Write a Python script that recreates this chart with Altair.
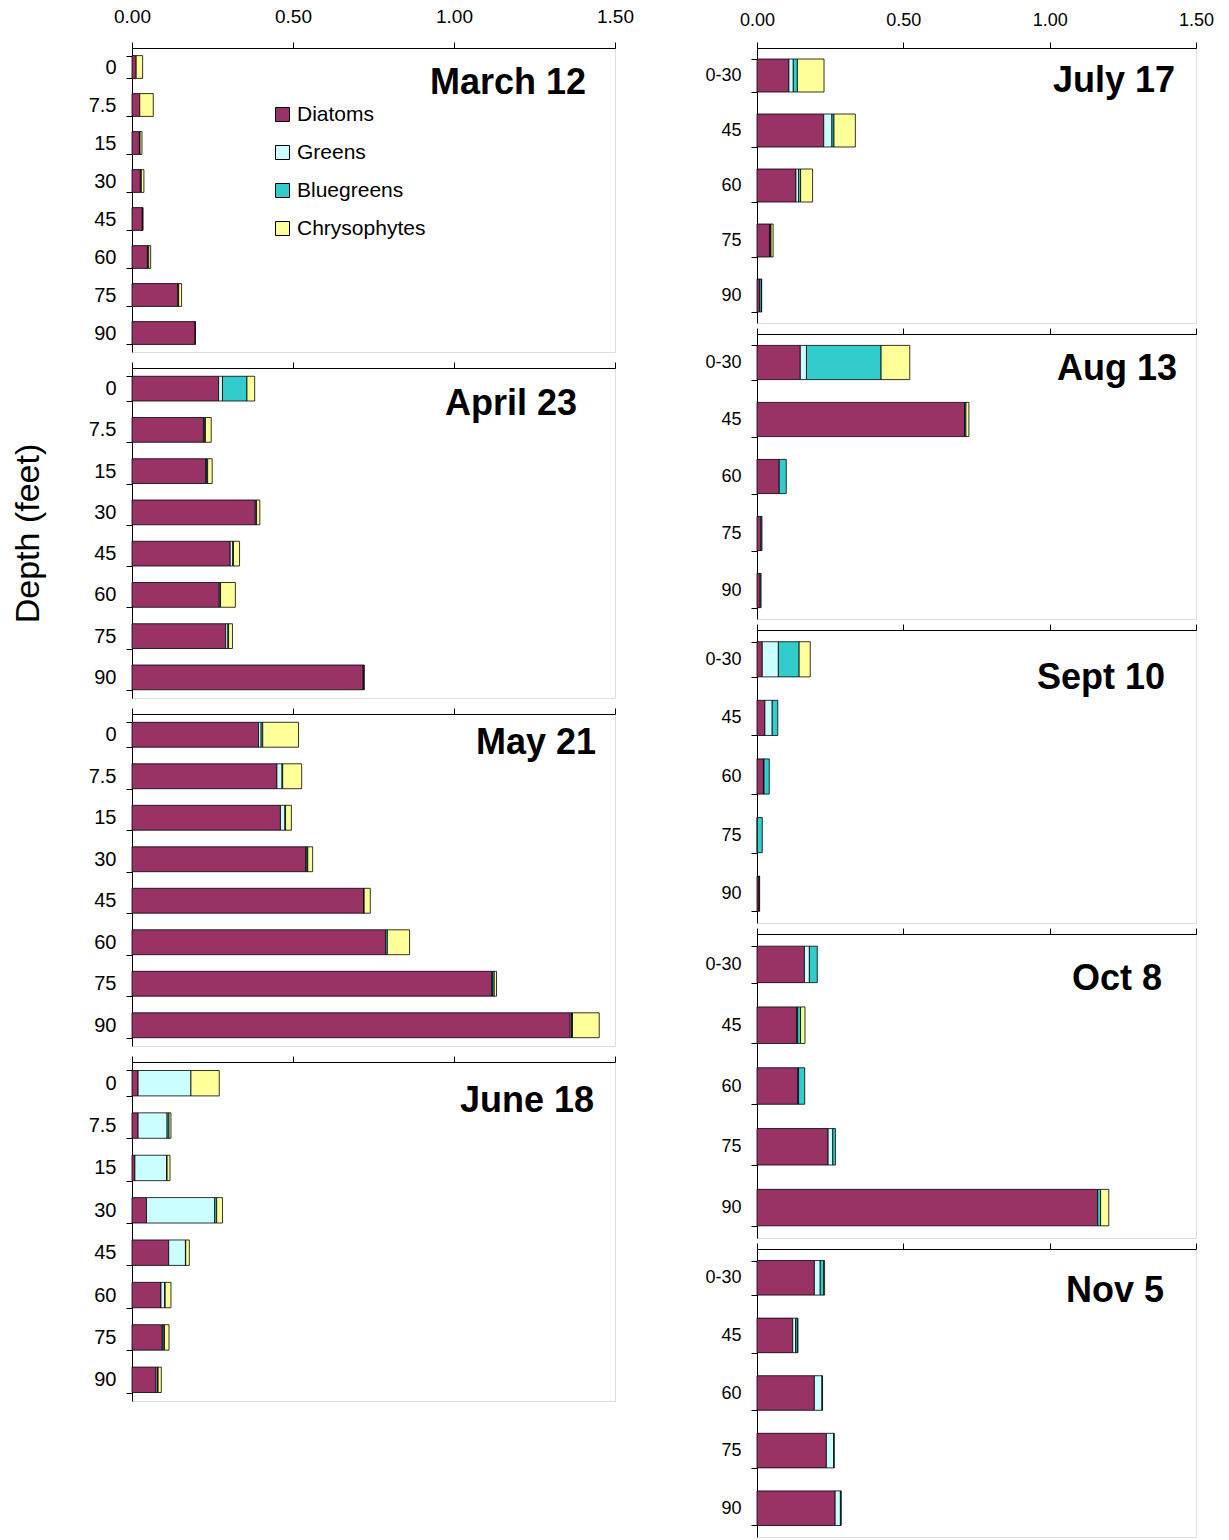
import altair as alt
import pandas as pd

GROUPS = ["Diatoms", "Greens", "Bluegreens", "Chrysophytes"]
COLORS = ["#993366", "#CCFFFF", "#33CCCC", "#FFFF99"]

DEPTHS_LEFT = ["0", "7.5", "15", "30", "45", "60", "75", "90"]
DEPTHS_RIGHT = ["0-30", "45", "60", "75", "90"]
X_TICKS = [0.0, 0.5, 1.0, 1.5]

# March 12
mar_diatoms = [0.013, 0.024, 0.023, 0.026, 0.032, 0.048, 0.143, 0.196]
mar_greens = [0, 0, 0, 0, 0, 0, 0, 0]
mar_bluegreens = [0, 0, 0.002, 0.003, 0.001, 0.004, 0.002, 0]
mar_chryso = [0.020, 0.042, 0.006, 0.008, 0.001, 0.006, 0.009, 0.001]
# April 23
apr_diatoms = [0.269, 0.222, 0.229, 0.383, 0.305, 0.271, 0.291, 0.718]
apr_greens = [0.012, 0.004, 0.002, 0, 0.008, 0, 0.007, 0]
apr_bluegreens = [0.076, 0.002, 0.004, 0.004, 0.002, 0.004, 0.002, 0.002]
apr_chryso = [0.024, 0.018, 0.014, 0.010, 0.019, 0.046, 0.012, 0.001]
# May 21
may_diatoms = [0.393, 0.450, 0.461, 0.539, 0.719, 0.788, 1.117, 1.361]
may_greens = [0.008, 0.016, 0.014, 0.004, 0.001, 0, 0.003, 0.004]
may_bluegreens = [0.005, 0.002, 0.002, 0.003, 0.001, 0.005, 0.005, 0.003]
may_chryso = [0.111, 0.059, 0.018, 0.015, 0.019, 0.069, 0.007, 0.083]
# June 18
jun_diatoms = [0.019, 0.019, 0.009, 0.045, 0.114, 0.090, 0.094, 0.075]
jun_greens = [0.164, 0.090, 0.099, 0.212, 0.052, 0.012, 0.003, 0.005]
jun_bluegreens = [0, 0.006, 0.001, 0.006, 0.001, 0.001, 0.004, 0.001]
jun_chryso = [0.088, 0.006, 0.009, 0.018, 0.011, 0.018, 0.014, 0.010]
# July 17
jul_diatoms = [0.109, 0.228, 0.133, 0.043, 0.009]
jul_greens = [0.015, 0.028, 0.009, 0.002, 0]
jul_bluegreens = [0.014, 0.007, 0.007, 0.003, 0.006]
jul_chryso = [0.091, 0.073, 0.041, 0.007, 0.001]
# Aug 13
aug_diatoms = [0.148, 0.709, 0.076, 0.014, 0.011]
aug_greens = [0.021, 0, 0, 0, 0]
aug_bluegreens = [0.255, 0.005, 0.024, 0.003, 0.003]
aug_chryso = [0.098, 0.010, 0, 0, 0]
# Sept 10
sep_diatoms = [0.018, 0.027, 0.022, 0.001, 0.007]
sep_greens = [0.055, 0.025, 0.002, 0, 0]
sep_bluegreens = [0.071, 0.019, 0.018, 0.017, 0.002]
sep_chryso = [0.038, 0, 0, 0, 0]
# Oct 8
oct_diatoms = [0.162, 0.135, 0.139, 0.243, 1.164]
oct_greens = [0.017, 0.004, 0.003, 0.016, 0]
oct_bluegreens = [0.027, 0.010, 0.021, 0.009, 0.010]
oct_chryso = [0, 0.015, 0, 0, 0.028]
# Nov 5
nov_diatoms = [0.196, 0.122, 0.196, 0.237, 0.267]
nov_greens = [0.020, 0.010, 0.026, 0.025, 0.018]
nov_bluegreens = [0.012, 0.006, 0.002, 0.002, 0.003]
nov_chryso = [0.003, 0.002, 0, 0, 0]

FONT = "Liberation Sans"


def panel(title, depths, series, width, height, first, legend, ytitle,
          label_size, xlabel_size, xlabel_pad, title_x, title_y):
    rows = []
    for i, dep in enumerate(depths):
        for k, (grp, vals) in enumerate(zip(GROUPS, series)):
            if vals[i] > 0:
                rows.append({"depth": dep, "group": grp, "k": k, "value": vals[i]})
    df = pd.DataFrame(rows)

    xaxis = alt.Axis(orient="top", values=X_TICKS, format=".2f", labels=first,
                     title=None, grid=False, tickSize=6, tickColor="black",
                     domainColor="black", labelFontSize=xlabel_size, labelFont=FONT,
                     labelColor="black", labelPadding=xlabel_pad if first else 0,
                     labelFlush=False)
    yaxis_kw = dict(tickBand="extent", tickSize=6, tickColor="black",
                    domainColor="black", labelFontSize=label_size, labelFont=FONT,
                    labelColor="black", labelPadding=10, grid=False)
    if ytitle:
        yaxis = alt.Axis(title=ytitle, titleFontSize=34, titleFont=FONT,
                         titleFontWeight="normal", titleColor="black",
                         titlePadding=43, **yaxis_kw)
    else:
        yaxis = alt.Axis(title=None, **yaxis_kw)

    if legend:
        leg = alt.Legend(orient="none", legendX=140, legendY=56, title=None,
                         symbolType="square", symbolSize=196, symbolStrokeColor="black",
                         symbolStrokeWidth=1, symbolOpacity=1, labelFontSize=21,
                         labelFont=FONT, labelColor="black", rowPadding=16,
                         labelOffset=4, padding=0)
    else:
        leg = None

    bars = alt.Chart(df).mark_bar(stroke="black", strokeWidth=0.8).encode(
        x=alt.X("value:Q", stack="zero",
                scale=alt.Scale(domain=[0, 1.5], nice=False, zero=True), axis=xaxis),
        y=alt.Y("depth:N", sort=depths,
                scale=alt.Scale(paddingInner=0.4, paddingOuter=0.2), axis=yaxis),
        color=alt.Color("group:N", scale=alt.Scale(domain=GROUPS, range=COLORS),
                        legend=leg),
        order=alt.Order("k:Q", sort="ascending"),
    )
    label = alt.Chart(pd.DataFrame({"t": [title]})).mark_text(
        font=FONT, fontSize=36, fontWeight="bold", align="right",
        baseline="middle", color="black"
    ).encode(text="t:N", x=alt.value(title_x), y=alt.value(title_y))
    return alt.layer(bars, label).properties(width=width, height=height)


LW, RW = 483, 439
left = alt.vconcat(
    panel("March 12", DEPTHS_LEFT, [mar_diatoms, mar_greens, mar_bluegreens, mar_chryso],
          LW, 304, True, True, None, 20, 19, 16, 454, 35),
    panel("April 23", DEPTHS_LEFT, [apr_diatoms, apr_greens, apr_bluegreens, apr_chryso],
          LW, 330, False, False, "Depth (feet)", 20, 19, 16, 445, 36),
    panel("May 21", DEPTHS_LEFT, [may_diatoms, may_greens, may_bluegreens, may_chryso],
          LW, 332, False, False, None, 20, 19, 16, 464, 29),
    panel("June 18", DEPTHS_LEFT, [jun_diatoms, jun_greens, jun_bluegreens, jun_chryso],
          LW, 339, False, False, None, 20, 19, 16, 462, 39),
    spacing=4,
).resolve_scale(x="independent", y="independent", color="independent").resolve_legend(color="independent")

right = alt.vconcat(
    panel("July 17", DEPTHS_RIGHT, [jul_diatoms, jul_greens, jul_bluegreens, jul_chryso],
          RW, 275, True, False, None, 18, 18, 13, 418, 33),
    panel("Aug 13", DEPTHS_RIGHT, [aug_diatoms, aug_greens, aug_bluegreens, aug_chryso],
          RW, 285, False, False, None, 18, 18, 13, 420, 35),
    panel("Sept 10", DEPTHS_RIGHT, [sep_diatoms, sep_greens, sep_bluegreens, sep_chryso],
          RW, 293, False, False, None, 18, 18, 13, 408, 48),
    panel("Oct 8", DEPTHS_RIGHT, [oct_diatoms, oct_greens, oct_bluegreens, oct_chryso],
          RW, 304, False, False, None, 18, 18, 13, 405, 45),
    panel("Nov 5", DEPTHS_RIGHT, [nov_diatoms, nov_greens, nov_bluegreens, nov_chryso],
          RW, 288, False, False, None, 18, 18, 13, 407, 42),
    spacing=0,
).resolve_scale(x="independent", y="independent", color="independent").resolve_legend(color="independent")

chart = alt.hconcat(left, right, spacing=70).resolve_scale(
    x="independent", y="independent", color="independent"
).resolve_legend(color="independent").properties(
    padding={"left": 10, "top": 6, "right": 5, "bottom": 0}
).configure_view(stroke="#808080", strokeWidth=1).configure(background="white")

chart.save("out.html", embed_options={"renderer": "svg", "actions": False})
